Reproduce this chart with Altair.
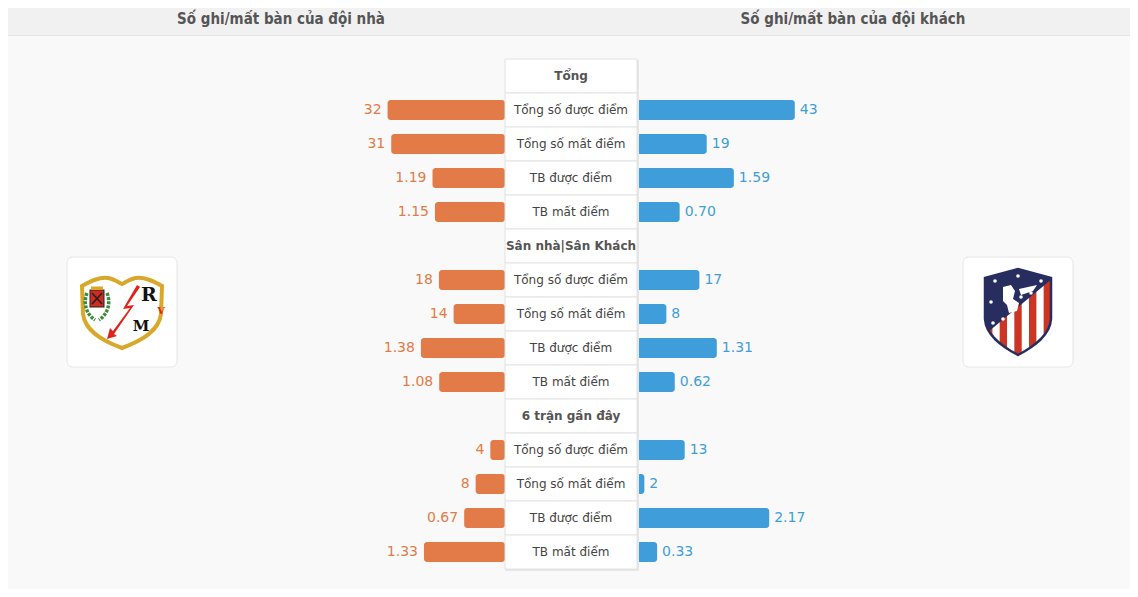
import base64
import altair as alt
import pandas as pd

# ---------------- data ----------------
titles = ["Số ghi/mất bàn của đội nhà", "Số ghi/mất bàn của đội khách"]
sections = ["Tổng", "Sân nhà|Sân Khách", "6 trận gần đây"]
metrics = ["Tổng số được điểm", "Tổng số mất điểm", "TB được điểm", "TB mất điểm"]
metric_is_avg = [False, False, True, True]
home_values = [32, 31, 1.19, 1.15, 18, 14, 1.38, 1.08, 4, 8, 0.67, 1.33]
away_values = [43, 19, 1.59, 0.70, 17, 8, 1.31, 0.62, 13, 2, 2.17, 0.33]

AVG_FACTOR = 16.6  # display scaling of averages relative to counts

ORANGE = "#e27b48"
BLUE = "#3f9ed9"

rows = []
for s_i, s in enumerate(sections):
    rows.append(dict(row=f"r{len(rows):02d}", label=s, kind="header"))
    for m_i, m in enumerate(metrics):
        k = s_i * 4 + m_i
        avg = metric_is_avg[m_i]
        h, a = home_values[k], away_values[k]
        rows.append(dict(
            row=f"r{len(rows):02d}", label=m, kind="metric",
            home_len=h * AVG_FACTOR if avg else h,
            away_len=a * AVG_FACTOR if avg else a,
            home_txt=f"{h:.2f}" if avg else f"{int(h)}",
            away_txt=f"{a:.2f}" if avg else f"{int(a)}",
        ))
rows_df = pd.DataFrame(rows)
row_ids = list(rows_df["row"])
metric_df = rows_df[rows_df["kind"] == "metric"]
header_df = rows_df[rows_df["kind"] == "header"]

# ---------------- logos (inline svg) ----------------
rayo_svg = """<svg xmlns="http://www.w3.org/2000/svg" width="110" height="110" viewBox="0 0 110 110">
<path d="M15,29 C24,24 32,20 41,21 C47,22 51,25 55,27 C59,25 63,22 69,21 C78,20 86,24 95,29 L94,57 C92,73 77,83 55,91 C33,83 18,73 16,57 Z" fill="#fff" stroke="#d8a82b" stroke-width="4"/>
<path d="M20,36 C16,46 19,57 28,63" fill="none" stroke="#3d8b3d" stroke-width="3.5" stroke-dasharray="3,1.2"/>
<path d="M40,36 C44,46 41,57 32,63" fill="none" stroke="#3d8b3d" stroke-width="3.5" stroke-dasharray="3,1.2"/>
<rect x="23" y="33" width="14" height="17" fill="#d12b1f" stroke="#222" stroke-width="1"/>
<path d="M25,36 L35,47 M35,36 L25,47" stroke="#222" stroke-width="1.6"/>
<rect x="24" y="29.5" width="12" height="3.5" fill="#d8a82b"/>
<polygon points="70,28 56,52 63,51 46,74 43,71 40,82 50,79 47,77 67,48 60,49 73,30" fill="#e2231a"/>
</svg>"""

atm_shield = "M22,21 L55,12 L88,21 L88,62 C87,78 72,89 55,98 C38,89 23,78 22,62 Z"
stripes = "".join(
    f'<rect x="{22 + i * 7.33:.2f}" y="0" width="7.4" height="110" fill="#cb3524"/>'
    for i in range(0, 9, 2)
)
stars = "".join(
    f'<circle cx="{cx}" cy="{cy}" r="1.8" fill="#fff"/>'
    for cx, cy in [(32, 24), (55, 19), (78, 24), (28, 45), (40, 62), (58, 40), (68, 36), (30, 66)]
)
atm_svg = f"""<svg xmlns="http://www.w3.org/2000/svg" width="110" height="110" viewBox="0 0 110 110">
<defs><clipPath id="s"><path d="{atm_shield}"/></clipPath></defs>
<g clip-path="url(#s)">
<rect x="0" y="0" width="110" height="110" fill="#fff"/>
{stripes}
<polygon points="0,0 110,0 110,4.4 0,95.8" fill="#272e5f"/>
<path d="M40,30 L48,28 L52,34 L50,42 L56,46 L54,54 L46,56 L44,48 L40,44 Z" fill="#fff"/>
<path d="M56,32 L74,28 L70,34 L58,38 Z" fill="#fff"/>
</g>
{stars}
<path d="{atm_shield}" fill="none" stroke="#272e5f" stroke-width="2.5"/>
</svg>"""


def data_uri(svg):
    return "data:image/svg+xml;base64," + base64.b64encode(svg.encode("utf-8")).decode("ascii")


logo_left_df = pd.DataFrame({"url": [data_uri(rayo_svg)]})
logo_right_df = pd.DataFrame({"url": [data_uri(atm_svg)]})

# ---------------- chart ----------------
W, H = 1122, 581
FONT = "DejaVu Sans"

y_enc = alt.Y("row:N", scale=alt.Scale(type="band", domain=row_ids, range=[51, 561],
                                       paddingInner=0, paddingOuter=0), axis=None)
left_scale = alt.Scale(domain=[0, 100], range=[497, 130])
right_scale = alt.Scale(domain=[0, 100], range=[629, 996])

one = pd.DataFrame({"a": [0]})

header_band = alt.Chart(one).mark_rect(color="#f1f1f1").encode(
    x=alt.value(0), x2=alt.value(W), y=alt.value(0), y2=alt.value(27))
header_line = alt.Chart(one).mark_rule(color="#e4e4e4", strokeWidth=1).encode(
    x=alt.value(0), x2=alt.value(W), y=alt.value(27.5))

t_left = alt.Chart(pd.DataFrame({"t": [titles[0]]})).mark_text(
    font="DejaVu Sans Condensed, Liberation Sans Narrow, DejaVu Sans", fontSize=15,
    fontWeight="bold", color="#555555").encode(
    x=alt.value(273), y=alt.value(11), text="t:N")
t_right = alt.Chart(pd.DataFrame({"t": [titles[1]]})).mark_text(
    font="DejaVu Sans Condensed, Liberation Sans Narrow, DejaVu Sans", fontSize=15,
    fontWeight="bold", color="#555555").encode(
    x=alt.value(845), y=alt.value(11), text="t:N")

bars_left = alt.Chart(metric_df).mark_bar(size=20, cornerRadius=3, color=ORANGE).encode(
    x=alt.X("home_len:Q", scale=left_scale, axis=None), x2=alt.datum(0), y=y_enc)
bars_right = alt.Chart(metric_df).mark_bar(size=20, cornerRadius=3, color=BLUE).encode(
    x=alt.X("away_len:Q", scale=right_scale, axis=None), x2=alt.datum(0), y=y_enc)

txt_left = alt.Chart(metric_df).mark_text(align="right", dx=-6, font=FONT, fontSize=14,
                                          color=ORANGE).encode(
    x=alt.X("home_len:Q", scale=left_scale, axis=None), y=y_enc, text="home_txt:N")
txt_right = alt.Chart(metric_df).mark_text(align="left", dx=5, font=FONT, fontSize=14,
                                           color=BLUE).encode(
    x=alt.X("away_len:Q", scale=right_scale, axis=None), y=y_enc, text="away_txt:N")

box_shadow = alt.Chart(one).mark_rect(fill="#e6e6e6").encode(
    x=alt.value(497), x2=alt.value(631), y=alt.value(52), y2=alt.value(563))
box = alt.Chart(rows_df).mark_rect(fill="white", stroke="#e2e2e2", strokeWidth=1).encode(
    x=alt.value(497), x2=alt.value(629), y=y_enc)

box_headers = alt.Chart(header_df).mark_text(font=FONT, fontSize=12, fontWeight="bold",
                                             color="#555555").encode(
    x=alt.value(563), y=y_enc, text="label:N")
box_metrics = alt.Chart(metric_df).mark_text(font=FONT, fontSize=12, color="#444444").encode(
    x=alt.value(563), y=y_enc, text="label:N")

logo_box_l = alt.Chart(one).mark_rect(fill="white", stroke="#e6e6e6", cornerRadius=6).encode(
    x=alt.value(59), x2=alt.value(169), y=alt.value(249), y2=alt.value(359))
logo_box_r = alt.Chart(one).mark_rect(fill="white", stroke="#e6e6e6", cornerRadius=6).encode(
    x=alt.value(955), x2=alt.value(1065), y=alt.value(249), y2=alt.value(359))
logo_l = alt.Chart(logo_left_df).mark_image(width=110, height=110).encode(
    x=alt.value(114), y=alt.value(304), url="url:N")
logo_r = alt.Chart(logo_right_df).mark_image(width=110, height=110).encode(
    x=alt.value(1010), y=alt.value(304), url="url:N")
logo_R = alt.Chart(pd.DataFrame({"t": ["R"]})).mark_text(
    font="DejaVu Serif", fontSize=19, fontWeight="bold", color="#111111").encode(
    x=alt.value(141), y=alt.value(287), text="t:N")
logo_V = alt.Chart(pd.DataFrame({"t": ["V"]})).mark_text(
    font="DejaVu Serif", fontSize=10, fontWeight="bold", color="#e2231a").encode(
    x=alt.value(153), y=alt.value(303), text="t:N")
logo_M = alt.Chart(pd.DataFrame({"t": ["M"]})).mark_text(
    font="DejaVu Serif", fontSize=15, fontWeight="bold", color="#111111").encode(
    x=alt.value(133), y=alt.value(318), text="t:N")

chart = alt.layer(
    header_band, header_line, t_left, t_right,
    bars_left, bars_right, txt_left, txt_right,
    box_shadow, box, box_headers, box_metrics,
    logo_box_l, logo_box_r, logo_l, logo_r, logo_R, logo_V, logo_M,
).resolve_scale(x="independent").properties(
    width=W, height=H, background="#f9f9f9", padding=0,
    autosize=alt.AutoSizeParams(type="none"),
).configure_view(stroke=None)

chart.save("out.html", embed_options={"renderer": "svg", "actions": False})
